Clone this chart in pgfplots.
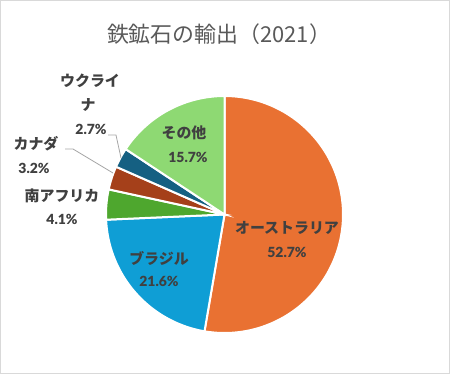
\documentclass[border=0pt]{standalone}
\usepackage{pgfplots}
\pgfplotsset{compat=1.18}
\usepackage{fontspec}
\setmainfont{Noto Sans CJK JP}
\newfontfamily\lato{Lato}[BoldFont={Lato Black}]
\definecolor{cAus}{HTML}{E97132}
\definecolor{cBra}{HTML}{0F9ED5}
\definecolor{cSA}{HTML}{4EA72E}
\definecolor{cCan}{HTML}{A5401A}
\definecolor{cUkr}{HTML}{156082}
\definecolor{cOth}{HTML}{8ED973}
\definecolor{txt}{HTML}{404040}
\definecolor{ttl}{HTML}{595959}
\definecolor{brd}{HTML}{D9D9D9}
\definecolor{lead}{HTML}{A6A6A6}
\begin{document}
\begin{tikzpicture}[x=1bp,y=1bp]
\useasboundingbox (0,0) rectangle (450,374);
\draw[brd, line width=1bp] (0.5,0.5) rectangle (449.5,373.5);
\begin{axis}[at={(224.5bp,159.5bp)}, anchor=center, hide axis, scale only axis,
  width=237bp, height=237bp, xmin=-1, xmax=1, ymin=-1, ymax=1, clip=false]
% cumulative shares (%): Australia 52.7, Brazil 21.6, South Africa 4.1, Canada 3.2, Ukraine 2.7, Others 15.7
\addplot[fill=cAus, draw=white, line width=2bp, domain=0:52.7, samples=120, variable=\t] ({sin(3.6*\t)},{cos(3.6*\t)}) -- (axis cs:0,0) -- cycle;
\addplot[fill=cBra, draw=white, line width=2bp, domain=52.7:74.3, samples=60, variable=\t] ({sin(3.6*\t)},{cos(3.6*\t)}) -- (axis cs:0,0) -- cycle;
\addplot[fill=cSA, draw=white, line width=2bp, domain=74.3:78.4, samples=15, variable=\t] ({sin(3.6*\t)},{cos(3.6*\t)}) -- (axis cs:0,0) -- cycle;
\addplot[fill=cCan, draw=white, line width=2bp, domain=78.4:81.6, samples=15, variable=\t] ({sin(3.6*\t)},{cos(3.6*\t)}) -- (axis cs:0,0) -- cycle;
\addplot[fill=cUkr, draw=white, line width=2bp, domain=81.6:84.3, samples=15, variable=\t] ({sin(3.6*\t)},{cos(3.6*\t)}) -- (axis cs:0,0) -- cycle;
\addplot[fill=cOth, draw=white, line width=2bp, domain=84.3:100, samples=50, variable=\t] ({sin(3.6*\t)},{cos(3.6*\t)}) -- (axis cs:0,0) -- cycle;
\end{axis}
% title
\node[ttl, font=\fontsize{22}{25}\selectfont] at (219,340) {鉄鉱石の輸出（2021）};
% leader lines
\draw[lead, line width=0.8bp] (108,239) -- (116,239) -- (121,216);
\draw[lead, line width=0.8bp] (65,225) -- (73,225) -- (113,201);
% labels
\begin{scope}[every node/.style={txt, font=\bfseries\fontsize{15}{17}\selectfont, inner sep=0pt}]
\node at (287,146) {オーストラリア};
\node at (287,122) {\lato\bfseries\fontsize{14}{16}\selectfont 52.7\%};
\node at (159,116) {ブラジル};
\node at (159,93) {\lato\bfseries\fontsize{14}{16}\selectfont 21.6\%};
\node at (62,178) {南アフリカ};
\node at (62,155) {\lato\bfseries\fontsize{14}{16}\selectfont 4.1\%};
\node at (36,230) {カナダ};
\node at (34,206) {\lato\bfseries\fontsize{14}{16}\selectfont 3.2\%};
\node at (90,293) {ウクライ};
\node at (88,269) {ナ};
\node at (91,245) {\lato\bfseries\fontsize{14}{16}\selectfont 2.7\%};
\node at (184,241) {その他};
\node at (188,217) {\lato\bfseries\fontsize{14}{16}\selectfont 15.7\%};
\end{scope}
\end{tikzpicture}
\end{document}
